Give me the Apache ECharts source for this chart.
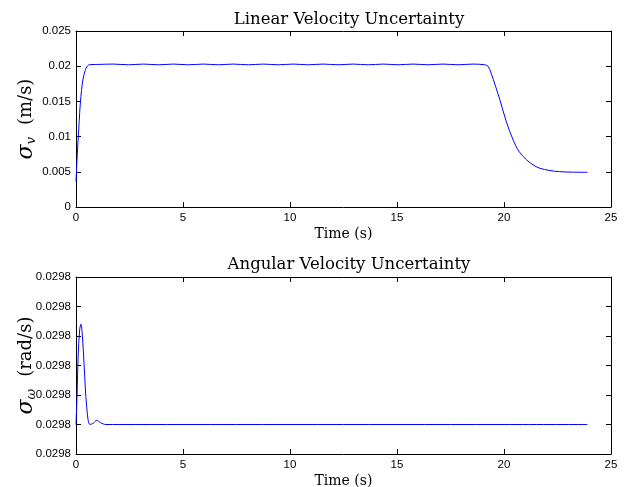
<!DOCTYPE html>
<html>
<head>
<meta charset="utf-8">
<script src="https://cdn.jsdelivr.net/npm/echarts@6/dist/echarts.min.js"></script>
<style>
html,body{margin:0;padding:0;background:#fff;}
#chart{width:632px;height:487px;}
</style>
</head>
<body>
<div id="chart"></div>
<script>
// ---- Data ----
const TITLE_TOP = 'Linear Velocity Uncertainty';
const TITLE_BOTTOM = 'Angular Velocity Uncertainty';
const X_LABEL = 'Time (s)';
const X_TICKS = [0, 5, 10, 15, 20, 25];
const LIN_Y_TICKS = [0, 0.005, 0.01, 0.015, 0.02, 0.025];
const ANG_Y_TICKS = [0.0298, 0.029801, 0.029802, 0.029803, 0.029804, 0.029805, 0.029806];

const LIN_T = [0, 0.06, 0.125, 0.23, 0.39, 0.62, 1.0, 1.75, 2.45, 3.15, 3.85, 4.55, 5.25, 5.95, 6.65, 7.35, 8.05, 8.75, 9.45, 10.15, 10.85, 11.55, 12.25, 12.95, 13.65, 14.35, 15.05, 15.75, 16.45, 17.15, 17.85, 18.55, 19.1, 19.25, 19.4, 19.6, 19.81, 20.1, 20.43, 20.7, 21.06, 21.4, 21.68, 22.1, 22.6, 23.2, 23.9];
const LIN_V = [0.0036, 0.0075, 0.0109, 0.0157, 0.0190, 0.0202, 0.02025, 0.0203, 0.0202, 0.0203, 0.0202, 0.0203, 0.0202, 0.0203, 0.0202, 0.0203, 0.0202, 0.0203, 0.0202, 0.0203, 0.0202, 0.0203, 0.0202, 0.0203, 0.0202, 0.0203, 0.0202, 0.0203, 0.0202, 0.0203, 0.0202, 0.0203, 0.0202, 0.0200, 0.0190, 0.0172, 0.0152, 0.0122, 0.0095, 0.0079, 0.00668, 0.0059, 0.0055, 0.0052, 0.00502, 0.00495, 0.00493];

const ANG_T = [0, 0.05, 0.1, 0.17, 0.23, 0.3, 0.38, 0.5, 0.65, 0.8, 0.97, 1.15, 1.4, 2.0, 5, 10, 15, 20, 23.9];
const ANG_V = [0.02980100, 0.02980200, 0.02980330, 0.02980420, 0.02980440, 0.02980400, 0.02980300, 0.02980160, 0.02980100, 0.02980104, 0.02980114, 0.02980106, 0.02980100, 0.02980100, 0.02980100, 0.02980100, 0.02980100, 0.02980100, 0.02980100];

const zip = (a, b) => a.map((t, i) => [t, b[i]]);

const SERIF = '"DejaVu Serif", "Liberation Serif", serif';
const SANS = '"Liberation Sans", Arial, sans-serif';

const G1 = {left: 76, right: 21, top: 31, height: 176, outerBoundsMode: 'none', containLabel: false};
const G2 = {left: 76, right: 21, top: 277, height: 177, outerBoundsMode: 'none', containLabel: false};

function xAxisPair(gi) {
  const base = {
    gridIndex: gi, type: 'value', min: X_TICKS[0], max: X_TICKS[X_TICKS.length - 1], interval: X_TICKS[1] - X_TICKS[0],
    splitLine: {show: false},
    axisLine: {show: true, onZero: false, lineStyle: {color: '#000', width: 1}},
    axisTick: {show: true, inside: true, length: 5, lineStyle: {color: '#000'}}
  };
  return [
    Object.assign({}, base, {
      position: 'bottom',
      name: X_LABEL, nameLocation: 'middle', nameGap: 20, nameMoveOverlap: false,
      nameTextStyle: {fontFamily: SERIF, fontSize: 14, color: '#000'},
      axisLabel: {fontFamily: SANS, fontSize: 11.5, color: '#000', margin: 5}
    }),
    Object.assign({}, base, {position: 'top', axisLabel: {show: false}})
  ];
}
function yAxisPair(gi, ticks, name, fmt) {
  const base = {
    gridIndex: gi, type: 'value', min: ticks[0], max: ticks[ticks.length - 1],
    interval: ticks[1] - ticks[0],
    splitLine: {show: false},
    axisLine: {show: true, onZero: false, lineStyle: {color: '#000', width: 1}},
    axisTick: {show: true, inside: true, length: 5, lineStyle: {color: '#000'}}
  };
  return [
    Object.assign({}, base, {
      position: 'left',
      name: name, nameLocation: 'middle', nameGap: 38, nameRotate: 90, nameMoveOverlap: false,
      nameTextStyle: {
        fontFamily: SERIF, fontSize: 18, color: '#000',
        rich: {
          s: {fontFamily: SERIF, fontSize: 22, fontStyle: 'italic', color: '#000'},
          sub: {fontFamily: SERIF, fontSize: 13, fontStyle: 'italic', color: '#000', padding: [10, 0, 0, 0]},
          t: {fontFamily: SERIF, fontSize: 18, color: '#000', padding: [0, 0, 0, 12]}
        }
      },
      axisLabel: {fontFamily: SANS, fontSize: 11.5, color: '#000', margin: 5, formatter: fmt}
    }),
    Object.assign({}, base, {position: 'right', axisLabel: {show: false}})
  ];
}

const chart = echarts.init(document.getElementById('chart'), null, {renderer: 'canvas'});
const xa = xAxisPair(0).concat(xAxisPair(1));
const ya = yAxisPair(0, LIN_Y_TICKS, '{s|σ}{sub|v}{t|(m/s)}', v => String(+v.toFixed(3)))
  .concat(yAxisPair(1, ANG_Y_TICKS, '{s|σ}{sub|ω}{t|(rad/s)}', v => v.toFixed(4)));

chart.setOption({
  animation: false,
  backgroundColor: '#fff',
  title: [
    {text: TITLE_TOP, left: 344, textAlign: 'center', top: 6, textStyle: {fontFamily: SERIF, fontSize: 16.5, fontWeight: 'normal', color: '#000'}},
    {text: TITLE_BOTTOM, left: 344, textAlign: 'center', top: 251, textStyle: {fontFamily: SERIF, fontSize: 16.5, fontWeight: 'normal', color: '#000'}}
  ],
  grid: [G1, G2],
  xAxis: xa,
  yAxis: ya,
  series: [
    {type: 'line', xAxisIndex: 0, yAxisIndex: 0, data: zip(LIN_T, LIN_V), showSymbol: false, smooth: 0.35,
     lineStyle: {color: '#0000ff', width: 1}},
    {type: 'line', xAxisIndex: 2, yAxisIndex: 2, data: zip(ANG_T, ANG_V), showSymbol: false, smooth: 0.35,
     lineStyle: {color: '#0000ff', width: 1}}
  ]
});
</script>
</body>
</html>
